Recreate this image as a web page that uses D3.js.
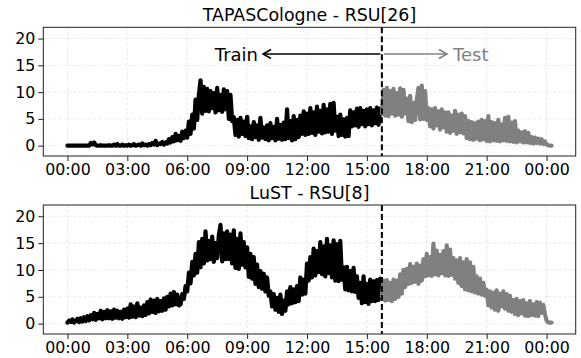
<!DOCTYPE html>
<html><head><meta charset="utf-8">
<script src="https://cdn.jsdelivr.net/npm/d3@7"></script>
<style>
body{margin:0;background:#fff}
svg{display:block}
text{font-family:"DejaVu Sans",sans-serif}
</style>
</head><body>
<svg id="c" width="581" height="358"></svg>
<script>
// ---- data ----
const tickHours = [0, 3, 6, 9, 12, 15, 18, 21, 24];
const tickLabels = ["00:00", "03:00", "06:00", "09:00", "12:00", "15:00", "18:00", "21:00", "00:00"];
const yTicks = [0, 5, 10, 15, 20];
const stepMinutes = 5;            // one value every 5 minutes, starting 00:00
const splitHour = 15.75;          // train / test boundary
const titles = ["TAPASCologne - RSU[26]", "LuST - RSU[8]"];

const tapasValues = [
  0,0,0,0,0,0,0,0,0,0,0,0,
  0,0,0.5,0.2,0.6,0.1,0,0,0.1,0,0,0,
  0,0.1,0,0,0.2,0,0.3,0,0,0.2,0,0.1,
  0,0.2,0,0.1,0.3,0,0.1,0.2,0,0.4,0.1,0.2,
  0,0.3,0.1,0.5,0.2,0.9,0.1,0.4,0.3,0.7,0.2,0.6,
  0.4,1.2,0.6,1.6,0.8,2.2,1.0,1.8,0.9,2.6,1.4,2.8,
  1.5,4.5,2.2,5.8,3.2,8.6,4.8,9.5,12.2,6.0,11.0,6.5,
  10.6,6.4,10.2,7.0,9.8,6.2,10.8,6.6,9.5,6.3,10.5,6.8,
  10.2,5.0,9.5,4.6,5.3,2.0,4.8,1.7,5.2,2.2,4.5,1.8,
  5.4,1.4,3.6,1.2,4.4,1.6,3.8,1.1,5.2,1.5,3.4,1.2,
  3.8,1.0,4.2,1.4,3.5,1.0,5.0,1.3,3.9,1.1,4.3,1.2,
  6.8,1.4,4.6,1.0,5.5,1.2,4.8,1.6,5.6,2.2,6.4,2.0,
  6.0,2.2,7.0,2.4,6.2,2.0,7.3,2.6,6.5,2.3,7.6,2.5,
  6.8,2.6,7.8,2.2,8.0,2.8,5.4,1.8,5.8,2.0,4.9,1.7,
  5.2,1.8,6.6,3.6,6.2,3.8,6.9,3.5,7.0,4.0,6.5,3.6,
  6.8,4.0,7.0,3.8,6.6,4.2,7.1,3.9,6.9,6.0,10.4,5.6,
  10.8,5.5,10.2,6.0,10.6,5.6,9.8,5.8,10.7,5.4,10.4,6.0,
  8.8,4.6,9.3,4.4,8.0,4.8,8.5,10.8,4.9,11.2,5.0,10.2,
  4.8,7.0,3.6,6.8,3.2,7.0,3.8,6.4,3.0,6.8,3.4,6.2,
  2.6,6.2,2.4,5.6,2.8,6.5,2.2,5.8,2.5,6.0,2.3,5.5,
  1.4,4.6,1.2,4.4,1.1,4.2,1.3,4.5,1.0,4.8,1.2,4.6,
  0.9,5.5,0.8,4.4,1.0,4.2,0.9,4.8,0.8,4.0,1.0,5.2,
  0.9,5.4,0.8,4.3,0.7,4.6,0.6,2.8,0.8,2.5,0.6,2.7,
  0.6,2.4,0.5,1.6,0.4,1.5,0.5,1.3,0.4,1.2,0.3,0.8,
  0.2,0.1,0,0
];

const lustValues = [
  0.2,0.6,0.3,0.8,0.2,0.5,0.9,0.3,1.0,0.4,1.2,0.5,
  1.4,0.6,1.6,0.8,2.0,0.7,1.8,1.0,2.4,0.8,2.2,1.0,
  2.5,1.0,2.3,0.9,2.6,1.1,2.4,1.0,2.2,0.9,2.6,1.2,
  2.8,1.1,3.6,1.3,3.2,1.2,3.8,1.5,3.0,1.4,3.4,1.6,
  4.0,1.9,4.5,2.2,4.3,2.0,4.6,2.3,4.2,2.4,4.7,2.6,
  5.0,3.2,5.6,3.4,5.9,3.6,5.4,3.4,3.6,5.5,4.6,7.0,
  6.0,9.5,7.5,11.5,9.0,13.0,9.5,15.2,10.5,15.8,11.2,17.2,
  11.8,15.4,12.0,16.2,11.5,15.0,12.2,16.5,18.4,11.6,16.8,12.0,
  17.2,12.0,16.6,11.2,17.4,10.4,15.8,10.2,16.8,11.0,15.2,10.5,
  14.2,8.7,13.0,8.4,12.4,7.4,11.0,6.8,9.8,6.5,9.3,6.0,
  8.6,5.2,6.0,3.2,5.5,2.6,4.8,2.2,5.4,1.8,4.3,2.4,
  6.0,3.6,6.8,3.8,6.4,4.0,7.0,4.2,8.6,5.4,8.2,5.6,
  11.2,8.0,12.4,8.6,14.0,9.0,13.5,9.6,15.2,9.2,14.4,8.8,
  15.8,9.4,14.6,8.6,15.5,8.0,14.8,7.9,15.4,8.2,10.5,6.4,
  10.6,6.2,9.8,6.0,10.4,5.9,8.8,4.8,7.6,3.8,8.8,4.0,
  7.4,3.7,8.2,4.2,7.9,4.2,8.1,4.4,8.4,5.0,8.0,4.3,
  8.1,4.4,7.6,4.2,8.2,4.6,8.0,5.0,9.2,5.6,10.0,6.8,
  10.2,7.4,11.1,7.6,10.6,7.8,11.2,7.4,10.8,8.0,12.0,8.8,
  13.0,9.0,12.4,8.9,14.9,9.2,13.6,9.0,12.8,9.4,13.5,9.0,
  14.6,8.9,13.8,9.1,12.2,8.4,11.8,7.6,12.2,7.0,11.4,6.4,
  12.0,6.2,11.4,6.0,10.6,5.8,8.8,5.6,8.4,5.4,7.6,5.2,
  6.3,3.4,6.0,3.0,5.8,2.6,6.2,2.4,5.6,3.2,6.0,2.8,
  5.5,2.4,5.2,2.2,4.4,1.8,4.6,1.6,4.2,1.9,4.4,1.5,
  3.8,1.4,4.2,1.6,3.6,1.5,4.0,1.4,3.9,2.0,3.5,1.8,
  0.6,0.2,0.2,0.2
];

// ---- layout ----
const svg = d3.select("#c");
const left = 43.3, right = 575.7;
const panels = [
  {top: 27.3, bottom: 156, values: tapasValues, title: titles[0], titleY: 20.5, annotate: true},
  {top: 205, bottom: 334, values: lustValues, title: titles[1], titleY: 199, annotate: false}
];
const x = d3.scaleLinear().domain([-1.21, 25.46]).range([left, right]);

panels.forEach(p => {
  const y = d3.scaleLinear().domain([-1.93, 22.1]).range([p.bottom, p.top]);
  const g = svg.append("g");

  // grid
  g.selectAll(".gx").data(tickHours).join("line")
    .attr("x1", d => x(d)).attr("x2", d => x(d))
    .attr("y1", p.top).attr("y2", p.bottom)
    .attr("stroke", "#e3e3e3").attr("stroke-width", 0.8).attr("stroke-dasharray", "3,2");
  g.selectAll(".gy").data(yTicks).join("line")
    .attr("x1", left).attr("x2", right)
    .attr("y1", d => y(d)).attr("y2", d => y(d))
    .attr("stroke", "#e3e3e3").attr("stroke-width", 0.8).attr("stroke-dasharray", "3,2");

  // series
  const pts = p.values.map((v, i) => ({h: i * stepMinutes / 60, v}));
  const line = d3.line().x(d => x(d.h)).y(d => y(d.v));
  const train = pts.filter(d => d.h <= splitHour + 1e-9);
  const test = pts.filter(d => d.h >= splitHour - 1e-9);
  g.append("path").attr("d", line(train)).attr("fill", "none")
    .attr("stroke", "#000").attr("stroke-width", 4.2).attr("stroke-linejoin", "round").attr("stroke-linecap", "round");
  g.append("path").attr("d", line(test)).attr("fill", "none")
    .attr("stroke", "#808080").attr("stroke-width", 4.2).attr("stroke-linejoin", "round").attr("stroke-linecap", "round");

  // split line
  g.append("line").attr("x1", x(splitHour)).attr("x2", x(splitHour))
    .attr("y1", p.top).attr("y2", p.bottom)
    .attr("stroke", "#000").attr("stroke-width", 2).attr("stroke-dasharray", "6,3");

  // frame
  g.append("rect").attr("x", left).attr("y", p.top)
    .attr("width", right - left).attr("height", p.bottom - p.top)
    .attr("fill", "none").attr("stroke", "#222").attr("stroke-width", 1);

  // axes
  const xa = d3.axisBottom(x).tickValues(tickHours).tickFormat((d, i) => tickLabels[i])
    .tickSize(5).tickPadding(3);
  const ax = svg.append("g").attr("transform", `translate(0,${p.bottom})`).call(xa);
  const ya = d3.axisLeft(y).tickValues(yTicks).tickSize(5).tickPadding(3);
  const ay = svg.append("g").attr("transform", `translate(${left},0)`).call(ya);
  [ax, ay].forEach(a => {
    a.select(".domain").remove();
    a.selectAll("text").attr("font-size", 15.8).attr("fill", "#000")
      .attr("font-family", "DejaVu Sans");
    a.selectAll(".tick line").attr("stroke", "#222");
  });

  // title
  svg.append("text").attr("x", (left + right) / 2).attr("y", p.titleY)
    .attr("text-anchor", "middle").attr("font-size", 17.4).text(p.title);

  if (p.annotate) {
    const ay0 = 54;
    const xs = x(splitHour);
    // train arrow
    svg.append("line").attr("x1", xs - 1.5).attr("x2", 263).attr("y1", ay0).attr("y2", ay0)
      .attr("stroke", "#000").attr("stroke-width", 1.5);
    svg.append("path").attr("d", `M${263 + 8},${ay0 - 4.5}L263,${ay0}L${263 + 8},${ay0 + 4.5}`)
      .attr("fill", "none").attr("stroke", "#000").attr("stroke-width", 1.5);
    svg.append("text").attr("x", 258).attr("y", 61).attr("text-anchor", "end")
      .attr("font-size", 18).attr("fill", "#000").text("Train");
    // test arrow
    svg.append("line").attr("x1", xs + 2).attr("x2", 447).attr("y1", ay0).attr("y2", ay0)
      .attr("stroke", "#808080").attr("stroke-width", 1.5);
    svg.append("path").attr("d", `M${447 - 8},${ay0 - 4.5}L447,${ay0}L${447 - 8},${ay0 + 4.5}`)
      .attr("fill", "none").attr("stroke", "#808080").attr("stroke-width", 1.5);
    svg.append("text").attr("x", 453).attr("y", 61).attr("text-anchor", "start")
      .attr("font-size", 18).attr("fill", "#808080").text("Test");
  }
});
</script>
</body></html>
